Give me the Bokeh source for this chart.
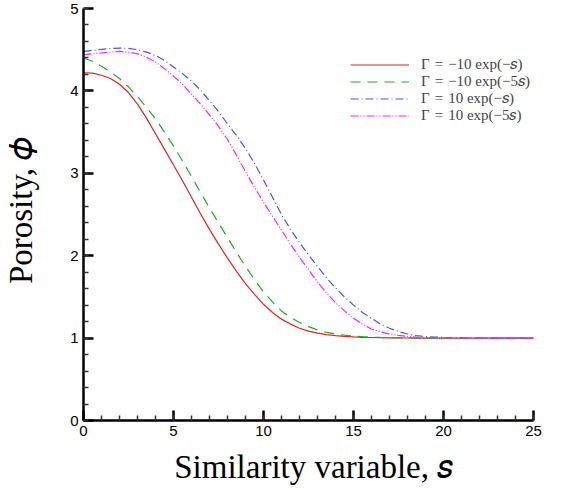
import math
from bokeh.plotting import figure
from bokeh.models import (Legend, LegendItem, SingleIntervalTicker, Range1d)
from bokeh.embed import file_html
from bokeh.resources import INLINE

# ---- data ----
s = [0, 0.5, 1, 1.5, 2, 2.5, 3, 3.5, 4, 4.5, 5, 5.5, 6, 6.5, 7, 7.5, 8, 8.5, 9, 9.5,
     10, 10.5, 11, 11.5, 12, 12.5, 13, 13.5, 14, 14.5, 15, 15.5, 16, 16.5, 17, 17.5, 18, 18.5,
     19, 19.5, 20, 21, 22, 23, 24, 25]
phi_neg10_exp_s = [4.22, 4.215, 4.19, 4.15, 4.08, 3.98, 3.84, 3.67, 3.48, 3.29,
                   3.10, 2.91, 2.71, 2.51, 2.32, 2.14, 1.97, 1.81, 1.66, 1.53,
                   1.41, 1.31, 1.23, 1.17, 1.12, 1.085, 1.06, 1.043, 1.03, 1.021,
                   1.015, 1.01, 1.007, 1.005, 1.003, 1.002, 1.001, 1.0,
                   1.0, 1.0, 1.0, 1.0, 1.0, 1.0, 1.0, 1.0]
phi_neg10_exp_5s = [4.40, 4.36, 4.30, 4.23, 4.15, 4.05, 3.93, 3.80, 3.66, 3.50,
                    3.33, 3.15, 2.96, 2.77, 2.58, 2.40, 2.22, 2.04, 1.87, 1.71,
                    1.56, 1.44, 1.33, 1.25, 1.19, 1.14, 1.10, 1.07, 1.05, 1.035,
                    1.025, 1.017, 1.012, 1.008, 1.005, 1.003, 1.002, 1.0,
                    1.0, 1.0, 1.0, 1.0, 1.0, 1.0, 1.0, 1.0]
phi_10_exp_s = [4.48, 4.49, 4.505, 4.515, 4.52, 4.515, 4.50, 4.47, 4.43, 4.37,
                4.29, 4.21, 4.12, 4.01, 3.88, 3.75, 3.60, 3.46, 3.30, 3.12,
                2.92, 2.71, 2.50, 2.32, 2.16, 2.01, 1.87, 1.73, 1.61, 1.50,
                1.40, 1.31, 1.24, 1.17, 1.12, 1.08, 1.05, 1.03,
                1.02, 1.013, 1.008, 1.003, 1.001, 1.0, 1.0, 1.0]
phi_10_exp_5s = [4.44, 4.45, 4.46, 4.47, 4.48, 4.47, 4.45, 4.41, 4.35, 4.27,
                 4.18, 4.08, 3.96, 3.84, 3.71, 3.57, 3.41, 3.22, 3.02, 2.83,
                 2.65, 2.48, 2.31, 2.14, 1.98, 1.83, 1.68, 1.55, 1.43, 1.33,
                 1.24, 1.17, 1.11, 1.075, 1.05, 1.032, 1.02, 1.013,
                 1.008, 1.005, 1.003, 1.001, 1.0, 1.0, 1.0, 1.0]

legend_labels = ["Γ\u2004=\u2004−10 exp(−𝑠)", "Γ\u2004=\u2004−10 exp(−5𝑠)",
                 "Γ\u2004=\u200410 exp(−𝑠)", "Γ\u2004=\u200410 exp(−5𝑠)"]
x_label = "Similarity variable, 𝑠\u2002"
y_label = "\u00a0Porosity, 𝜙"
x_bounds = (0, 25)
y_bounds = (0, 5)
x_ticks_interval = 5
y_ticks_interval = 1

SERIF = "Liberation Serif"
SANS = "Liberation Sans"

FRAME_W = 477
PX_PER_S = 18.0
p = figure(frame_width=FRAME_W, frame_height=412, output_backend="svg", toolbar_location=None,
           x_range=Range1d(x_bounds[0], x_bounds[0] + FRAME_W / PX_PER_S),
           y_range=Range1d(*y_bounds),
           min_border_left=83, min_border_right=0, min_border_top=8, min_border_bottom=64)
p.outline_line_color = None
p.xgrid.visible = False
p.ygrid.visible = False
p.background_fill_color = "white"

r1 = p.line(s, phi_neg10_exp_s, line_color="#e02424", line_width=1.2)
r2 = p.line(s, phi_neg10_exp_5s, line_color="#22aa22", line_width=1.2, line_dash="10 7")
r3 = p.line(s, phi_10_exp_s, line_color="#4455ff", line_width=1.2, line_dash="8 3 1 3")
r4 = p.line(s, phi_10_exp_5s, line_color="#ff22ff", line_width=1.2, line_dash="8 2 1 2 1 2")

for ax, iv, bnds, lab in ((p.xaxis[0], x_ticks_interval, x_bounds, x_label),
                          (p.yaxis[0], y_ticks_interval, y_bounds, y_label)):
    ax.ticker = SingleIntervalTicker(interval=iv, num_minor_ticks=5)
    ax.bounds = bnds
    ax.axis_line_width = 2.5
    ax.axis_line_color = "black"
    ax.major_tick_in = 10
    ax.major_tick_out = 0
    ax.major_tick_line_width = 2.5
    ax.major_tick_line_color = "black"
    ax.minor_tick_in = 5
    ax.minor_tick_out = 0
    ax.minor_tick_line_width = 1.5
    ax.minor_tick_line_color = "#333333"
    ax.major_label_text_font = SANS
    ax.major_label_text_font_size = "15px"
    ax.major_label_text_color = "black"
    ax.major_label_standoff = 5
    ax.axis_label = lab
    ax.axis_label_text_font = SERIF
    ax.axis_label_text_font_size = "33px"
    ax.axis_label_text_font_style = "normal"
    ax.axis_label_text_color = "black"

p.xaxis[0].axis_label_standoff = 10
p.yaxis[0].axis_label_standoff = 28

legend = Legend(items=[LegendItem(label=legend_labels[0], renderers=[r1]),
                       LegendItem(label=legend_labels[1], renderers=[r2]),
                       LegendItem(label=legend_labels[2], renderers=[r3]),
                       LegendItem(label=legend_labels[3], renderers=[r4])],
                location=(267, 296), glyph_width=59, glyph_height=15, label_height=15,
                label_standoff=12, spacing=-4, padding=0, margin=0,
                label_text_font=SERIF, label_text_font_size="15px",
                border_line_color=None, background_fill_alpha=0)
p.add_layout(legend, "center")

open("out.html", "w").write(file_html(p, INLINE))
